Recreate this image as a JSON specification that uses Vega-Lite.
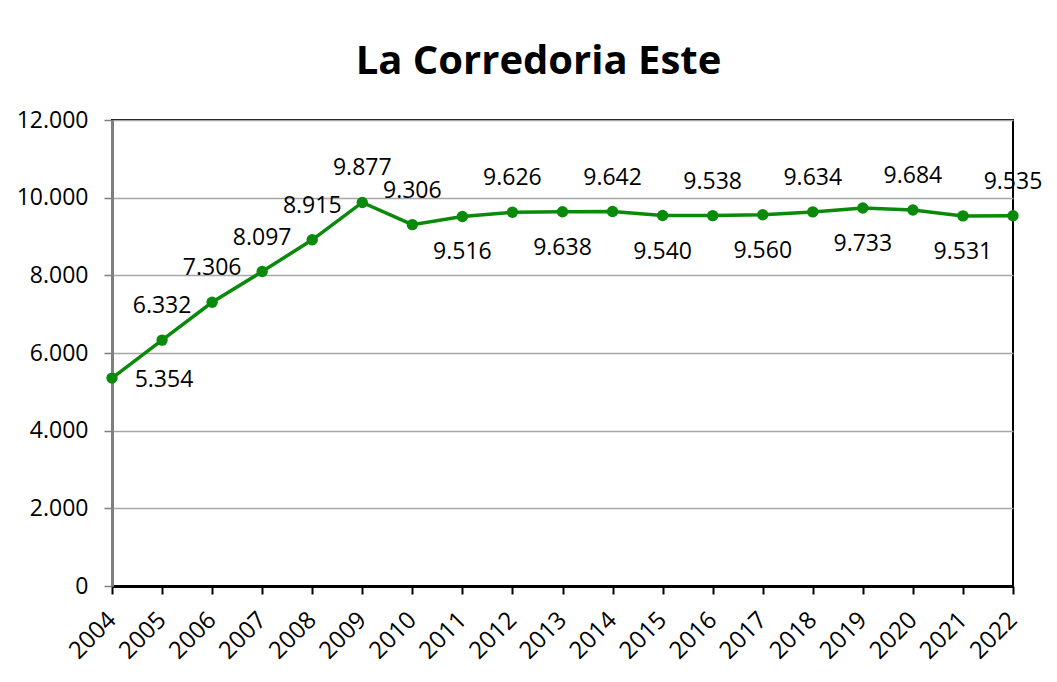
{
  "$schema": "https://vega.github.io/schema/vega-lite/v6.json",
  "autosize": "none",
  "padding": {"left": 112, "top": 120, "right": 44, "bottom": 96},
  "width": 901,
  "height": 466,
  "background": "white",
  "config": {
    "locale": {"number": {"decimal": ",", "thousands": ".", "grouping": [3], "currency": ["", " €"]}},
    "font": "Open Sans",
    "view": {"stroke": "#000000", "strokeWidth": 2}
  },
  "title": {
    "text": "La Corredoria Este",
    "font": "Open Sans",
    "fontSize": 40,
    "fontWeight": "bold",
    "color": "#000000",
    "anchor": "middle",
    "frame": "group",
    "baseline": "alphabetic",
    "offset": -5,
    "dx": -24
  },
  "data": {
    "values": [
      {"year": "2004", "value": 5354},
      {"year": "2005", "value": 6332},
      {"year": "2006", "value": 7306},
      {"year": "2007", "value": 8097},
      {"year": "2008", "value": 8915},
      {"year": "2009", "value": 9877},
      {"year": "2010", "value": 9306},
      {"year": "2011", "value": 9516},
      {"year": "2012", "value": 9626},
      {"year": "2013", "value": 9638},
      {"year": "2014", "value": 9642},
      {"year": "2015", "value": 9540},
      {"year": "2016", "value": 9538},
      {"year": "2017", "value": 9560},
      {"year": "2018", "value": 9634},
      {"year": "2019", "value": 9733},
      {"year": "2020", "value": 9684},
      {"year": "2021", "value": 9531},
      {"year": "2022", "value": 9535}
    ]
  },
  "encoding": {
    "x": {
      "field": "year",
      "type": "ordinal",
      "scale": {"type": "point", "padding": 0},
      "axis": {
        "title": null,
        "labelAngle": -45,
        "labelAlign": "right",
        "labelBaseline": "middle",
        "labelFontSize": 24,
        "labelColor": "#000000",
        "labelPadding": 22,
        "labelOffset": 0,
        "domainColor": "#000000",
        "domainWidth": 3,
        "tickColor": "#000000",
        "tickWidth": 2,
        "tickSize": 8,
        "grid": false
      }
    },
    "y": {
      "field": "value",
      "type": "quantitative",
      "scale": {"domain": [0, 12000], "nice": false},
      "axis": {
        "title": null,
        "values": [0, 2000, 4000, 6000, 8000, 10000, 12000],
        "format": ",d",
        "labelFontSize": 23,
        "labelColor": "#000000",
        "labelPadding": 16,
        "domainColor": "#7f7f7f",
        "domainWidth": 3,
        "tickColor": "#7f7f7f",
        "tickWidth": 1.5,
        "tickSize": 8,
        "grid": true,
        "gridColor": "#a6a6a6",
        "gridWidth": 1.5
      }
    }
  },
  "layer": [
    {
      "mark": {"type": "line", "color": "#0A8A0A", "strokeWidth": 3.5}
    },
    {
      "mark": {"type": "circle", "color": "#0A8A0A", "size": 130, "opacity": 1}
    },
    {
      "transform": [{"filter": {"field": "year", "oneOf": ["2005", "2006", "2007", "2008", "2009", "2010", "2012", "2014", "2016", "2018", "2020", "2022"]}}],
      "mark": {"type": "text", "fontSize": 23, "color": "#000000", "dy": -34, "baseline": "middle", "align": "center"},
      "encoding": {"text": {"field": "value", "type": "quantitative", "format": ",d"}}
    },
    {
      "transform": [{"filter": {"field": "year", "oneOf": ["2011", "2013", "2015", "2017", "2019", "2021"]}}],
      "mark": {"type": "text", "fontSize": 23, "color": "#000000", "dy": 36, "baseline": "middle", "align": "center"},
      "encoding": {"text": {"field": "value", "type": "quantitative", "format": ",d"}}
    },
    {
      "transform": [{"filter": {"field": "year", "oneOf": ["2004"]}}],
      "mark": {"type": "text", "fontSize": 23, "color": "#000000", "dx": 52, "dy": 2, "baseline": "middle", "align": "center"},
      "encoding": {"text": {"field": "value", "type": "quantitative", "format": ",d"}}
    }
  ]
}
